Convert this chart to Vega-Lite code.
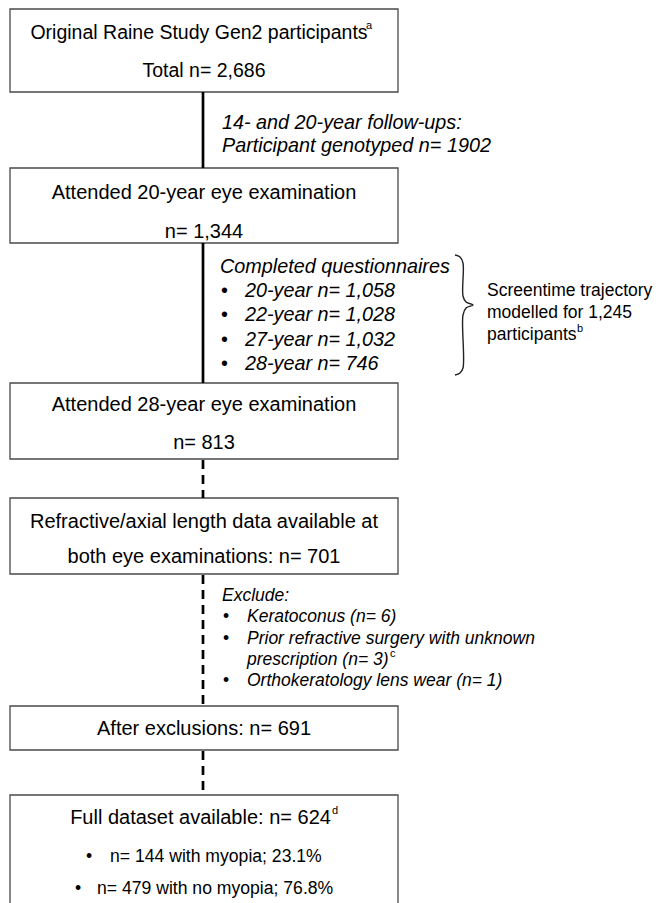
{
  "$schema": "https://vega.github.io/schema/vega-lite/v6.json",
  "width": 663,
  "height": 903,
  "autosize": {"type": "fit", "contains": "padding"},
  "padding": 0,
  "background": "white",
  "config": {"view": {"stroke": null}, "text": {"font": "Liberation Sans", "color": "#000000"}},
  "datasets": {
    "boxes": [
      {"box": "Original cohort", "x": 10, "x2": 398, "y": 9, "y2": 92},
      {"box": "20-year exam", "x": 10, "x2": 398, "y": 168, "y2": 243},
      {"box": "28-year exam", "x": 10, "x2": 398, "y": 383, "y2": 459},
      {"box": "Both exams", "x": 10, "x2": 398, "y": 498, "y2": 574},
      {"box": "After exclusions", "x": 10, "x2": 398, "y": 706, "y2": 750},
      {"box": "Full dataset", "x": 10, "x2": 398, "y": 795, "y2": 910}
    ],
    "links": [
      {"x": 203, "y": 92, "y2": 168, "kind": "solid"},
      {"x": 203, "y": 243, "y2": 383, "kind": "solid"},
      {"x": 203, "y": 460, "y2": 498, "kind": "dashed"},
      {"x": 203, "y": 575, "y2": 706, "kind": "dashed"},
      {"x": 203, "y": 751, "y2": 795, "kind": "dashed"}
    ],
    "cohort": [
      {"t": "Original Raine Study Gen2 participants", "x": 199, "y": 33},
      {"t": "Total n= 2,686", "x": 204, "y": 71}
    ],
    "main": [
      {"t": "Attended 20-year eye examination", "x": 204, "y": 193},
      {"t": "n= 1,344", "x": 204, "y": 232},
      {"t": "Attended 28-year eye examination", "x": 204, "y": 405},
      {"t": "n= 813", "x": 204, "y": 443},
      {"t": "Refractive/axial length data available at", "x": 204, "y": 522},
      {"t": "both eye examinations: n= 701", "x": 204, "y": 557},
      {"t": "After exclusions: n= 691", "x": 204, "y": 729},
      {"t": "Full dataset available: n= 624", "x": 200.5, "y": 818}
    ],
    "split": [
      {"t": "n= 144 with myopia; 23.1%", "x": 110, "bx": 86, "y": 857},
      {"t": "n= 479 with no myopia; 76.8%", "x": 97, "bx": 75, "y": 889}
    ],
    "followup_notes": [
      {"t": "14- and 20-year follow-ups:", "x": 222, "y": 123},
      {"t": "Participant genotyped n= 1902", "x": 222, "y": 146},
      {"t": "Completed questionnaires", "x": 220, "y": 267},
      {"t": "20-year n= 1,058", "x": 245, "y": 291},
      {"t": "22-year n= 1,028", "x": 245, "y": 315},
      {"t": "27-year n= 1,032", "x": 245, "y": 340},
      {"t": "28-year n= 746", "x": 245, "y": 364}
    ],
    "followup_bullets": [
      {"x": 221, "y": 291},
      {"x": 221, "y": 315},
      {"x": 221, "y": 340},
      {"x": 221, "y": 364}
    ],
    "exclusion_notes": [
      {"t": "Exclude:", "x": 222, "y": 596},
      {"t": "Keratoconus (n= 6)", "x": 247, "y": 617},
      {"t": "Prior refractive surgery with unknown", "x": 247, "y": 639},
      {"t": "prescription (n= 3)", "x": 247, "y": 660},
      {"t": "Orthokeratology lens wear (n= 1)", "x": 247, "y": 681}
    ],
    "exclusion_bullets": [
      {"x": 223, "y": 617},
      {"x": 223, "y": 639},
      {"x": 223, "y": 681}
    ],
    "side": [
      {"t": "Screentime trajectory", "x": 487, "y": 291},
      {"t": "modelled for 1,245", "x": 487, "y": 313},
      {"t": "participants", "x": 487, "y": 335}
    ],
    "sups": [
      {"t": "a", "x": 366, "y": 26},
      {"t": "b", "x": 577, "y": 329},
      {"t": "c", "x": 390, "y": 654},
      {"t": "d", "x": 332, "y": 811}
    ],
    "brace": [
      {"o": 1, "x": 455, "y": 255},
      {"o": 2, "x": 460, "y": 257},
      {"o": 3, "x": 463, "y": 263},
      {"o": 4, "x": 463, "y": 296},
      {"o": 5, "x": 466, "y": 302},
      {"o": 6, "x": 473, "y": 305},
      {"o": 7, "x": 466, "y": 308},
      {"o": 8, "x": 463, "y": 315},
      {"o": 9, "x": 463, "y": 368},
      {"o": 10, "x": 460, "y": 373},
      {"o": 11, "x": 455, "y": 375}
    ]
  },
  "encoding": {
    "x": {"field": "x", "type": "quantitative", "scale": {"domain": [0, 663], "nice": false, "zero": false}, "axis": null},
    "y": {"field": "y", "type": "quantitative", "scale": {"domain": [0, 903], "nice": false, "zero": false, "reverse": true}, "axis": null}
  },
  "layer": [
    {
      "data": {"name": "boxes"},
      "mark": {"type": "rect", "fill": "white", "stroke": "#4a4a4a", "strokeWidth": 1.3, "clip": true},
      "encoding": {
        "x2": {"field": "x2"},
        "y2": {"field": "y2"}
      }
    },
    {
      "data": {"name": "links"},
      "mark": {"type": "rule", "color": "#000000", "strokeWidth": 2.7},
      "encoding": {
        "y2": {"field": "y2"},
        "strokeDash": {"field": "kind", "type": "nominal", "scale": {"domain": ["solid", "dashed"], "range": [[1, 0], [9, 6]]}, "legend": null}
      }
    },
    {
      "data": {"name": "brace"},
      "mark": {"type": "line", "color": "#222222", "strokeWidth": 1.4, "interpolate": "catmull-rom"},
      "encoding": {
        "order": {"field": "o", "type": "quantitative"}
      }
    },
    {
      "data": {"name": "cohort"},
      "mark": {"type": "text", "fontSize": 19.5, "align": "center", "baseline": "middle"},
      "encoding": {"text": {"field": "t"}}
    },
    {
      "data": {"name": "main"},
      "mark": {"type": "text", "fontSize": 20, "align": "center", "baseline": "middle"},
      "encoding": {"text": {"field": "t"}}
    },
    {
      "data": {"name": "split"},
      "mark": {"type": "text", "fontSize": 17.6, "align": "left", "baseline": "middle"},
      "encoding": {"text": {"field": "t"}}
    },
    {
      "data": {"name": "split"},
      "mark": {"type": "text", "fontSize": 17.6, "align": "left", "baseline": "middle", "text": "•"},
      "encoding": {"x": {"field": "bx", "type": "quantitative"}}
    },
    {
      "data": {"name": "followup_notes"},
      "mark": {"type": "text", "fontSize": 19.8, "fontStyle": "italic", "align": "left", "baseline": "middle"},
      "encoding": {"text": {"field": "t"}}
    },
    {
      "data": {"name": "followup_bullets"},
      "mark": {"type": "text", "fontSize": 19.8, "align": "left", "baseline": "middle", "text": "•"}
    },
    {
      "data": {"name": "exclusion_notes"},
      "mark": {"type": "text", "fontSize": 17.5, "fontStyle": "italic", "align": "left", "baseline": "middle"},
      "encoding": {"text": {"field": "t"}}
    },
    {
      "data": {"name": "exclusion_bullets"},
      "mark": {"type": "text", "fontSize": 17.5, "align": "left", "baseline": "middle", "text": "•"}
    },
    {
      "data": {"name": "side"},
      "mark": {"type": "text", "fontSize": 17.5, "align": "left", "baseline": "middle"},
      "encoding": {"text": {"field": "t"}}
    },
    {
      "data": {"name": "sups"},
      "mark": {"type": "text", "fontSize": 11, "align": "left", "baseline": "middle"},
      "encoding": {"text": {"field": "t"}}
    }
  ]
}
